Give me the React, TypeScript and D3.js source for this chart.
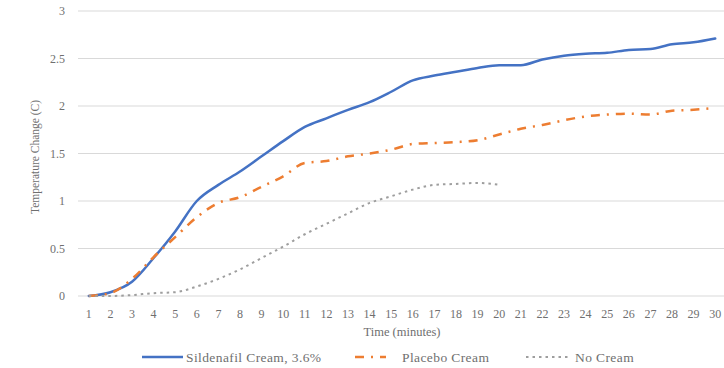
import React from "react";
import * as d3 from "d3";

const minutes = d3.range(1, 31);
const sildenafil = [
  0, 0.04, 0.15, 0.4, 0.68, 1.0, 1.17, 1.31, 1.47, 1.63, 1.78, 1.87, 1.96, 2.04,
  2.15, 2.27, 2.32, 2.36, 2.4, 2.43, 2.43, 2.49, 2.53, 2.55, 2.56, 2.59, 2.6,
  2.65, 2.67, 2.71,
];
const placebo = [
  0, 0.03, 0.18, 0.41, 0.62, 0.83, 0.98, 1.04, 1.15, 1.26, 1.4, 1.42, 1.47, 1.5,
  1.54, 1.6, 1.61, 1.62, 1.64, 1.7, 1.76, 1.8, 1.85, 1.89, 1.91, 1.92, 1.91,
  1.95, 1.96, 1.98,
];
const noCream = [
  0, 0, 0.01, 0.03, 0.04, 0.1, 0.18, 0.28, 0.4, 0.52, 0.65, 0.76, 0.87, 0.98,
  1.05, 1.12, 1.17, 1.18, 1.19, 1.17,
];
const yTicks = [0, 0.5, 1, 1.5, 2, 2.5, 3];

const series = [
  { name: "Sildenafil Cream, 3.6%", values: sildenafil, color: "#4472C4", dash: "none", width: 2.5, cap: "round" },
  { name: "Placebo Cream", values: placebo, color: "#ED7D31", dash: "9 7 2 7", width: 2.5, cap: "butt" },
  { name: "No Cream", values: noCream, color: "#9E9E9E", dash: "2.5 4", width: 2, cap: "butt" },
];

const W = 724;
const H = 368;
const font = "'Liberation Serif', 'Times New Roman', serif";
const textColor = "#6f6f6f";

export default function App() {
  const x = d3.scaleBand<number>().domain(minutes).range([78, 726]);
  const y = d3.scaleLinear().domain([0, 3]).range([296, 11]);
  const cx = (m: number) => (x(m) as number) + x.bandwidth() / 2;

  const line = d3
    .line<number>()
    .x((_, i) => cx(minutes[i]))
    .y((d) => y(d))
    .curve(d3.curveMonotoneX);

  // legend swatch / label positions
  const legend = [
    { x0: 142, x1: 183, tx: 186 },
    { x0: 355, x1: 386, tx: 402 },
    { x0: 526, x1: 568, tx: 575 },
  ];

  return (
    <svg width={W} height={H} style={{ position: "absolute", left: 0, top: 0, background: "#fff" }}>
      <g>
        {yTicks.map((t) => (
          <g key={t}>
            <line x1={78} x2={724} y1={y(t)} y2={y(t)} stroke="#D9D9D9" strokeWidth={1} />
            <text x={65} y={y(t)} dy="0.35em" textAnchor="end" fontFamily={font} fontSize={12} fill={textColor}>
              {t}
            </text>
          </g>
        ))}
        {minutes.map((m) => (
          <text key={m} x={cx(m)} y={318} textAnchor="middle" fontFamily={font} fontSize={12} fill={textColor}>
            {m}
          </text>
        ))}
      </g>
      {series.map((s) => (
        <path
          key={s.name}
          d={line(s.values) || ""}
          fill="none"
          stroke={s.color}
          strokeWidth={s.width}
          strokeDasharray={s.dash}
          strokeLinecap={s.cap as any}
          strokeLinejoin="round"
        />
      ))}
      <text
        transform={`translate(39,${157}) rotate(-90)`}
        textAnchor="middle"
        fontFamily={font}
        fontSize={11.5}
        fill={textColor}
      >
        Temperature Change (C)
      </text>
      <text x={402} y={336} textAnchor="middle" fontFamily={font} fontSize={12.5} fill={textColor}>
        Time (minutes)
      </text>
      {series.map((s, i) => (
        <g key={s.name}>
          <line
            x1={legend[i].x0}
            x2={legend[i].x1}
            y1={357}
            y2={357}
            stroke={s.color}
            strokeWidth={s.width}
            strokeDasharray={s.dash}
          />
          <text
            x={legend[i].tx}
            y={357}
            dy="0.35em"
            fontFamily={font}
            fontSize={13.5}
            letterSpacing={0.4}
            fill={textColor}
          >
            {s.name}
          </text>
        </g>
      ))}
    </svg>
  );
}
